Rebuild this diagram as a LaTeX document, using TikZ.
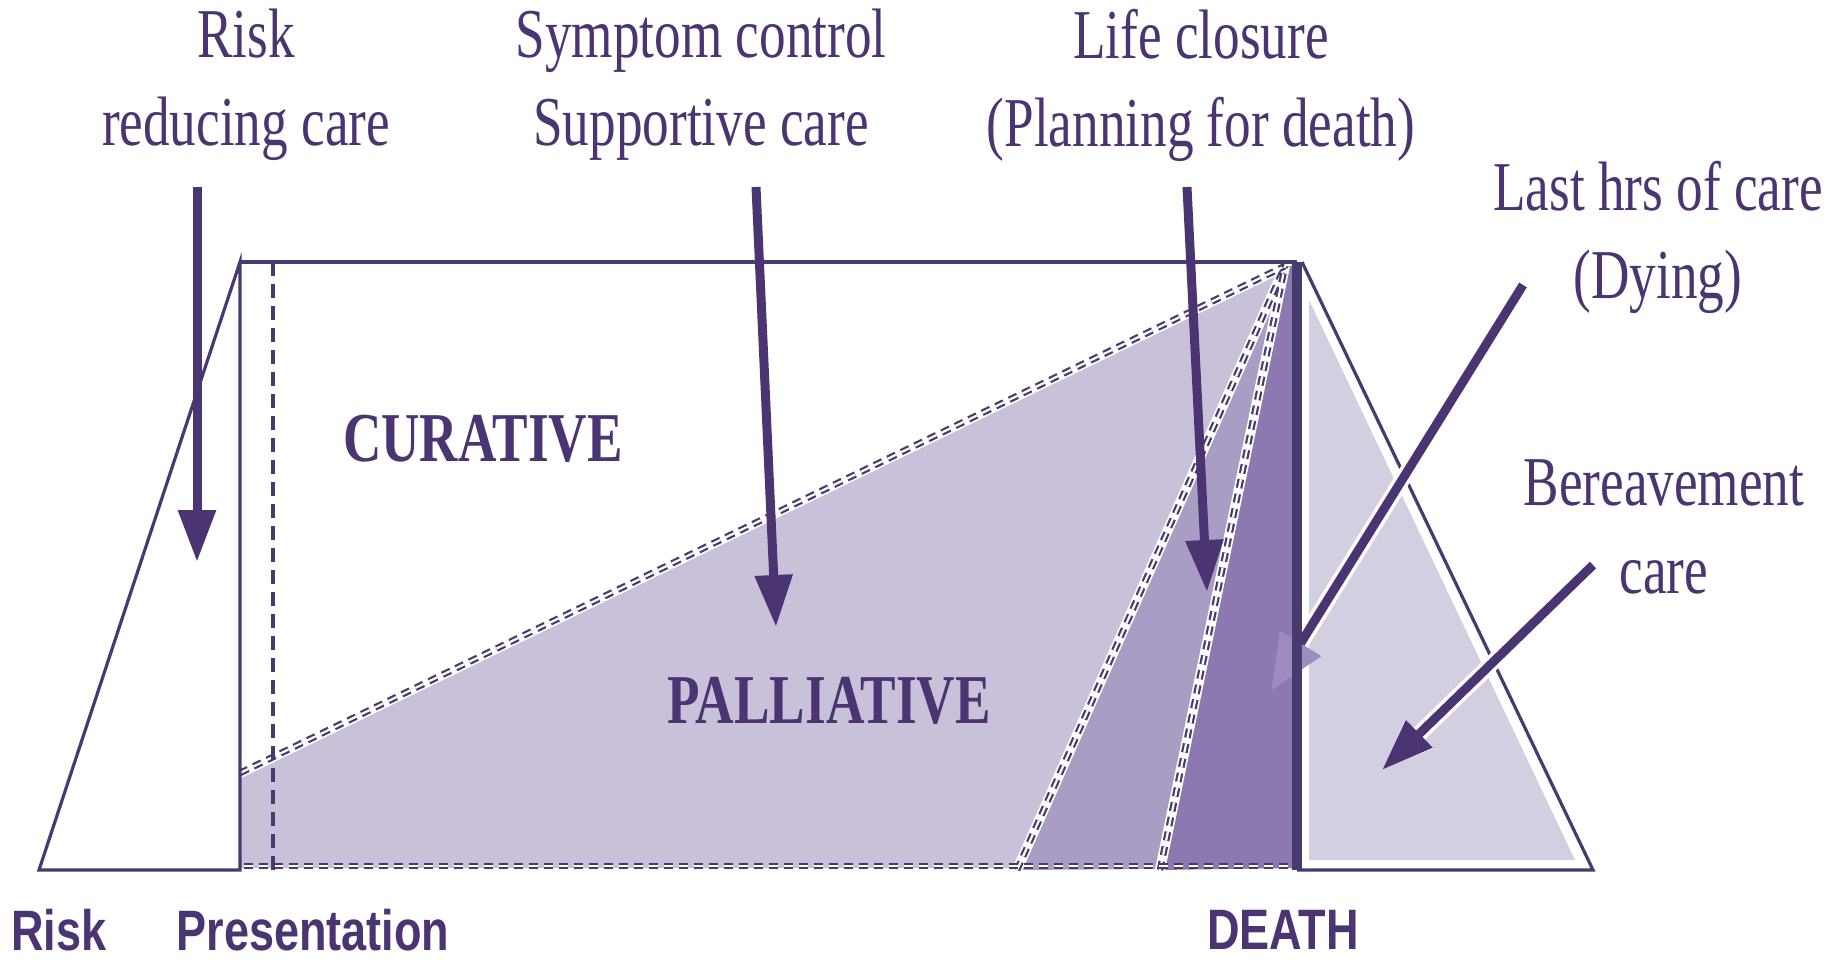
\documentclass[tikz,border=0pt]{standalone}
\usepackage{fontspec}
\setmainfont{Liberation Serif}
\newfontfamily\labsans{Liberation Sans}
\usetikzlibrary{arrows.meta}
\definecolor{ink}{HTML}{4A3472}
\definecolor{edge}{HTML}{463A6E}
\definecolor{fillA}{HTML}{C9C0D9}
\definecolor{fillB}{HTML}{AA9DC3}
\definecolor{fillC}{HTML}{8C79AF}
\definecolor{fillD}{HTML}{D4CFE0}
\definecolor{headlite}{HTML}{9D8CBF}
\begin{document}
\begin{tikzpicture}[x=0.5pt,y=-0.5pt,
  lbl/.style={text=ink, font=\fontsize{35}{44}\selectfont, align=center, xscale=0.76, inner sep=0pt},
  big/.style={text=ink, font=\bfseries\fontsize{35}{40}\selectfont, xscale=0.76, inner sep=0pt},
  axislabel/.style={text=ink, font=\labsans\bfseries\fontsize{28.5}{30}\selectfont, xscale=0.79, inner sep=0pt},
  outline/.style={draw=edge, line width=1.6pt},
  chainline/.style={draw=edge, line width=1.1pt, double=white, double distance=1.1pt, dash pattern=on 4.5pt off 3pt},
  glowline/.style={draw=white, line width=5pt},
  arr/.style={draw=ink, line width=4.5pt, -{Triangle[length=26pt,width=18pt]}},
  halo/.style={preaction={draw=white, line width=8pt}}
]
\useasboundingbox (0,0) rectangle (1837,963);

% key points
\coordinate (bl) at (39,870);
\coordinate (pt) at (240,262);
\coordinate (pb) at (240,870);
\coordinate (dt) at (1297,262);
\coordinate (db) at (1297,870);
\coordinate (tb) at (1593,870);
\coordinate (tt) at (1302,262);
\coordinate (P) at (1285,266);
\coordinate (pl) at (240,773);
\coordinate (ml) at (1017,870);
\coordinate (kl) at (1160,870);

% fills
\fill[fillA] (pl) -- (P) -- (1292,266) -- (1292,868) -- (240,868) -- cycle;
\fill[fillB] (ml) -- (P) -- (1292,266) -- (1292,868) -- cycle;
\fill[fillC] (kl) -- (P) -- (1292,266) -- (1292,868) -- cycle;
\fill[fillD] (1309,300) -- (1575,860) -- (1309,860) -- cycle;

% dashed chain boundaries
\draw[glowline] (pl) -- (P);
\draw[glowline] (ml) -- (P);
\draw[glowline] (kl) -- (P);
\draw[chainline] (pl) -- (P);
\draw[chainline] (ml) -- (P);
\draw[chainline] (kl) -- (P);
\draw[chainline] (244,866) -- (1290,866);

% outlines
\draw[outline] (bl) -- (pt) -- (pb) -- cycle;
\draw[outline] (pt) -- (dt);
\draw[outline] (tt) -- (tb) -- (db);
\draw[edge, line width=1.8pt, dash pattern=on 7pt off 4pt] (273,262) -- (273,870);

% arrows
\coordinate (a1s) at (197,187); \coordinate (a1e) at (197,562);
\coordinate (a2s) at (756,187); \coordinate (a2e) at (776,627);
\coordinate (a3s) at (1187,187); \coordinate (a3e) at (1207,592);
\coordinate (a4s) at (1523,285); \coordinate (a4e) at (1271,691);
\coordinate (a5s) at (1593,565); \coordinate (a5e) at (1382,770);
\draw[arr] (a1s) -- (a1e);
\draw[arr] (a2s) -- (a2e);
\draw[arr] (a3s) -- (a3e);
\draw[arr, halo, -{Triangle[length=28pt,width=22pt,color=headlite]}] (a4s) -- (a4e);
\draw[arr, halo] (a5s) -- (a5e);

% death line
\draw[edge, line width=5pt] (dt) -- (db);

% labels
\node[lbl] (t1) at (246,85) {Risk\\reducing care};
\node[lbl] (t2) at (701,85) {Symptom control\\Supportive care};
\node[lbl] (t3) at (1201,85) {Life closure\\(Planning for death)};
\node[lbl] (t4) at (1658,237) {Last hrs of care\\(Dying)};
\node[lbl] (t5) at (1664,527) {Bereavement\\care};
\node[big] (cur) at (483,439) {CURATIVE};
\node[big] (pal) at (829,701) {PALLIATIVE};
\node[axislabel] (c1) at (59,930) {Risk};
\node[axislabel] (c2) at (313,930) {Presentation};
\node[axislabel] (c3) at (1283,930) {DEATH};
\end{tikzpicture}
\end{document}
